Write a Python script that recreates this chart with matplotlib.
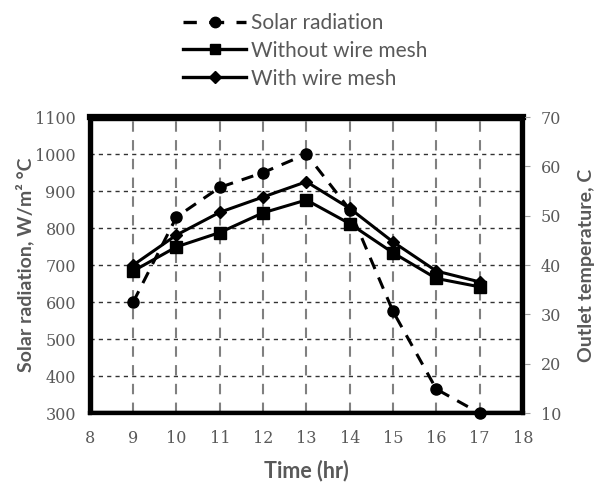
import matplotlib
matplotlib.use("Agg")
import matplotlib.pyplot as plt
from matplotlib.lines import Line2D
from matplotlib.patches import Rectangle

time_hr = [9, 10, 11, 12, 13, 14, 15, 16, 17]
solar = [600, 830, 910, 950, 1000, 850, 575, 365, 300]
without_mesh = [38.8, 43.7, 46.6, 50.6, 53.2, 48.4, 42.5, 37.3, 35.6]
with_mesh = [40.0, 46.1, 50.7, 53.8, 56.9, 51.5, 44.7, 38.8, 36.6]

x_ticks = list(range(8, 19))
left_ticks = list(range(300, 1101, 100))
right_ticks = list(range(10, 71, 10))

gray = "#595959"
tick_font = "DejaVu Serif"
label_font = "Lato"

fig = plt.figure(figsize=(5.99, 4.96), dpi=100)
ax = fig.add_axes([0.150, 0.167, 0.723, 0.597])
ax2 = ax.twinx()

ax.set_xlim(8, 18)
ax.set_ylim(300, 1100)
ax2.set_ylim(10, 70)

# grid
for xv in x_ticks[1:-1]:
    ax.axvline(xv, color="#808080", lw=1.5, ls=(0, (5, 4)), zorder=1)
for yv in left_ticks[1:-1]:
    ax.axhline(yv, color="#333333", lw=1.0, ls=(0, (3, 3)), zorder=1)

ax.plot(time_hr, solar, color="black", lw=2.2, ls=(0, (4, 3)), marker="o",
        ms=8, zorder=3, clip_on=False)
ax2.plot(time_hr, without_mesh, color="black", lw=2.2, marker="s", ms=8, zorder=3)
ax2.plot(time_hr, with_mesh, color="black", lw=2.2, marker="D", ms=6.5, zorder=3)

ax.set_xticks(x_ticks)
ax.set_yticks(left_ticks)
ax2.set_yticks(right_ticks)
for a in (ax, ax2):
    for lab in a.get_xticklabels() + a.get_yticklabels():
        lab.set_fontfamily(tick_font)
        lab.set_fontsize(11.5)
        lab.set_color(gray)
ax.tick_params(axis="both", length=0, pad=12)
ax.tick_params(axis="y", pad=10)
ax2.tick_params(axis="y", length=5, color="#a0a0a0", pad=8)

for a in (ax, ax2):
    for s in a.spines.values():
        s.set_linewidth(3.0)
        s.set_color("black")
ax.spines["top"].set_linewidth(4.5)

# inner border line (double line look)
ax2.add_patch(Rectangle((0.006, 0.009), 0.988, 0.982, transform=ax.transAxes,
                        fill=False, lw=1.0, ec="black", zorder=5, clip_on=False))

ax.set_xlabel("Time (hr)", fontfamily=label_font, fontweight="bold",
              fontsize=15.5, color=gray, labelpad=9)
ax.set_ylabel("Solar radiation, W/m² °C", fontfamily=label_font, fontweight="bold",
              fontsize=14, color=gray, labelpad=1)
ax2.set_ylabel("Outlet temperature, C", fontfamily=label_font, fontweight="bold",
               fontsize=14, color=gray, labelpad=12)

handles = [
    Line2D([], [], color="black", lw=2.4, ls=(0.5, (4.5, 3.7)), marker="o", ms=7.5),
    Line2D([], [], color="black", lw=2.4, marker="s", ms=7.5),
    Line2D([], [], color="black", lw=2.4, marker="D", ms=6.5),
]
labels = ["Solar radiation", "Without wire mesh", "With wire mesh"]
leg = fig.legend(handles, labels, loc="upper left", bbox_to_anchor=(0.275, 1.012),
                 frameon=False, prop={"family": label_font, "size": 15},
                 handlelength=3.0, handletextpad=0.25, labelspacing=0.38)
for t in leg.get_texts():
    t.set_color(gray)

fig.savefig("out.png", dpi=100)
